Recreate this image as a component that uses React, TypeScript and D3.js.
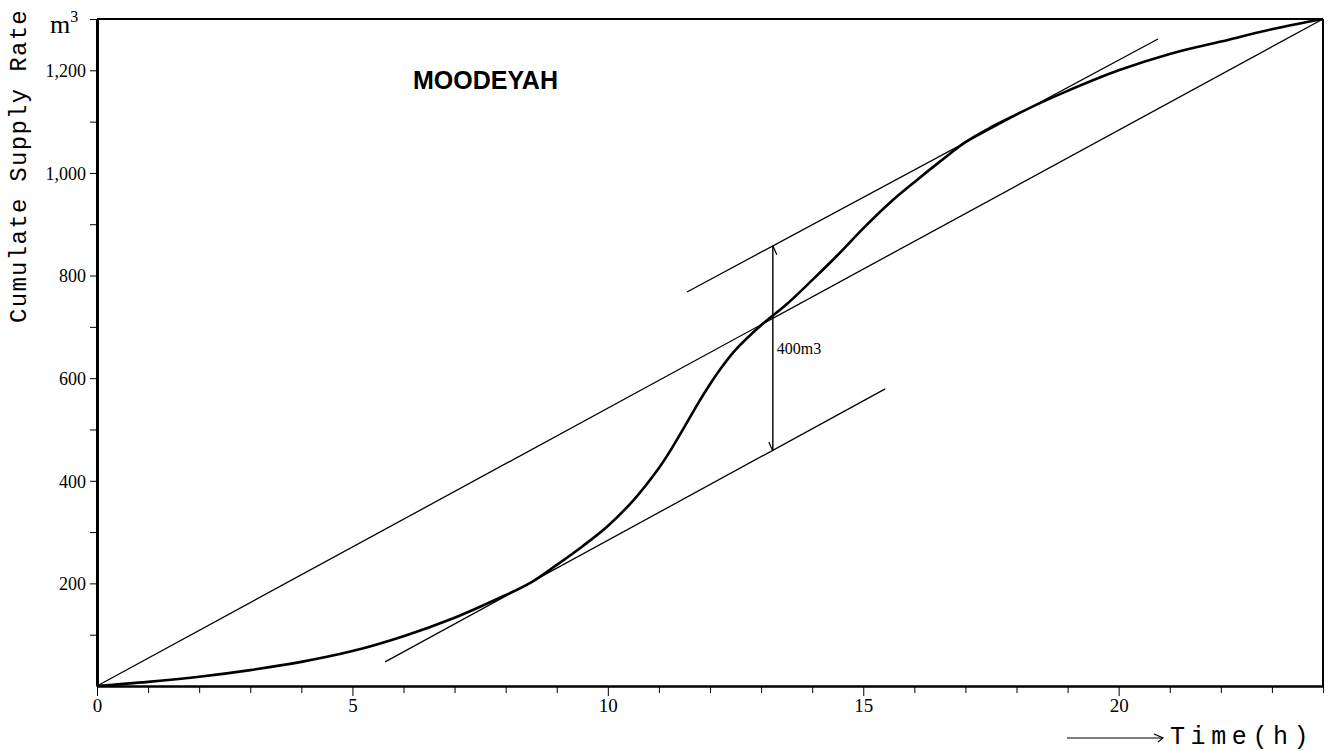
import React, { useEffect, useRef } from "react";
import * as d3 from "d3";

// cumulative supply curve (hours, m3)
const hours = [0, 1, 2, 3, 4, 5, 6, 7, 7.8, 8.5, 9, 9.5, 10, 10.5, 11, 11.25, 11.5, 11.75, 12, 12.25, 12.5, 13, 13.5, 14, 14.5, 15, 15.5, 16, 16.5, 17, 17.5, 18, 18.5, 19, 20, 21, 22, 23, 24];
const supply = [0, 8, 18, 31, 47, 68, 97, 133, 168, 202, 236, 272, 312, 362, 425, 463, 505, 548, 588, 624, 655, 703, 744, 791, 840, 892, 940, 982, 1022, 1060, 1089, 1114, 1138, 1160, 1200, 1232, 1256, 1280, 1300];

// straight lines: average demand and the two parallel tangents
const averageLine = [{ t: 0, v: 0 }, { t: 24, v: 1300 }];
const lowerTangent = [{ t: 5.64, v: 47 }, { t: 15.43, v: 579 }];
const upperTangent = [{ t: 11.55, v: 768 }, { t: 20.77, v: 1261 }];
const storageArrow = { t: 13.23, from: 458, to: 858, label: "400m3" };

const yTickValues = [200, 400, 600, 800, 1000, 1200];
const xTickValues = [0, 5, 10, 15, 20];

export default function App() {
  const svgRef = useRef<SVGSVGElement>(null);

  useEffect(() => {
    const W = 1334;
    const H = 751;
    const LEFT = 97, RIGHT = 1323, TOP = 19, BOTTOM = 686;

    const svg = d3.select(svgRef.current);
    svg.selectAll("*").remove();
    svg.attr("width", W).attr("height", H);

    const x = d3.scaleLinear().domain([0, 24]).range([LEFT, RIGHT]);
    const y = d3.scaleLinear().domain([0, 1300]).range([BOTTOM, TOP]);

    // frame
    svg.append("line").attr("x1", LEFT).attr("x2", RIGHT).attr("y1", TOP).attr("y2", TOP)
      .attr("stroke", "#000").attr("stroke-width", 2);
    svg.append("line").attr("x1", RIGHT).attr("x2", RIGHT).attr("y1", TOP).attr("y2", BOTTOM)
      .attr("stroke", "#000").attr("stroke-width", 2);

    // y axis
    const yAxis = svg.append("g").attr("transform", `translate(${LEFT},0)`)
      .call(d3.axisLeft(y).tickValues(d3.range(100, 1301, 100)).tickSize(7).tickSizeOuter(0)
        .tickFormat((d) => (yTickValues.includes(+d) ? d3.format(",")(+d) : "")));
    yAxis.select(".domain").attr("stroke-width", 3);
    yAxis.selectAll("text").attr("font-family", "'Liberation Serif', serif").attr("font-size", 18)
      .attr("fill", "#000").attr("dx", "-1").attr("dy", "0.35em");

    // x axis
    const xAxis = svg.append("g").attr("transform", `translate(0,${BOTTOM})`)
      .call(d3.axisBottom(x).tickValues(d3.range(0, 25, 1)).tickSize(7).tickSizeOuter(0)
        .tickFormat((d) => (xTickValues.includes(+d) ? String(d) : "")));
    xAxis.select(".domain").attr("stroke-width", 2.5);
    xAxis.selectAll(".tick line").attr("y2", (d: any) => (xTickValues.includes(+d) ? 10 : 7));
    xAxis.selectAll("text").attr("font-family", "'Liberation Serif', serif").attr("font-size", 19)
      .attr("fill", "#000").attr("y", 13);

    const straight = d3.line<{ t: number; v: number }>().x((d) => x(d.t)).y((d) => y(d.v));
    [averageLine, lowerTangent, upperTangent].forEach((seg) => {
      svg.append("path").datum(seg).attr("d", straight).attr("fill", "none")
        .attr("stroke", "#000").attr("stroke-width", 1.3);
    });

    // supply curve
    const curve = d3.line<number>().x((d) => x(d)).y((_, i) => y(supply[i])).curve(d3.curveCatmullRom.alpha(0.5));
    svg.append("path").datum(hours).attr("d", curve).attr("fill", "none")
      .attr("stroke", "#000").attr("stroke-width", 2.6);

    // storage arrow
    const ax = x(storageArrow.t);
    const y1 = y(storageArrow.to), y2 = y(storageArrow.from);
    svg.append("line").attr("x1", ax).attr("x2", ax).attr("y1", y1).attr("y2", y2)
      .attr("stroke", "#000").attr("stroke-width", 1.4);
    svg.append("path").attr("d", `M${ax},${y1} L${ax + 4},${y1 + 9}`).attr("stroke", "#000").attr("fill", "none").attr("stroke-width", 1.2);
    svg.append("path").attr("d", `M${ax},${y2} L${ax - 4},${y2 - 9}`).attr("stroke", "#000").attr("fill", "none").attr("stroke-width", 1.2);
    svg.append("text").attr("x", ax + 4).attr("y", y(storageArrow.from + 200) + 6)
      .attr("font-family", "'Liberation Serif', serif").attr("font-size", 16).text(storageArrow.label);

    // title
    svg.append("text").attr("x", 413).attr("y", 89)
      .attr("font-family", "'Liberation Sans', Arial, sans-serif").attr("font-weight", "bold")
      .attr("font-size", 25).text("MOODEYAH");

    // axis titles
    svg.append("text").attr("transform", `translate(26,166) rotate(-90)`).attr("text-anchor", "middle")
      .attr("font-family", "'Liberation Mono', monospace").attr("font-size", 24)
      .attr("letter-spacing", 1.3).text("Cumulate Supply Rate");

    const unit = svg.append("text").attr("x", 50).attr("y", 33)
      .attr("font-family", "'Liberation Serif', serif").attr("font-size", 26);
    unit.append("tspan").text("m");
    unit.append("tspan").attr("font-size", 16).attr("dy", -11).text("3");

    svg.append("line").attr("x1", 1067).attr("x2", 1162).attr("y1", 738).attr("y2", 738)
      .attr("stroke", "#000").attr("stroke-width", 1.2);
    svg.append("path").attr("d", "M1154,734 L1163,738 L1158,742").attr("fill", "none")
      .attr("stroke", "#000").attr("stroke-width", 1.2);
    svg.append("text").attr("x", 1170).attr("y", 744)
      .attr("font-family", "'Liberation Mono', monospace").attr("font-size", 25)
      .attr("letter-spacing", 5.6).text("Time(h)");
  }, []);

  return (
    <svg ref={svgRef} style={{ position: "absolute", left: 0, top: 0, background: "#fff" }}></svg>
  );
}
